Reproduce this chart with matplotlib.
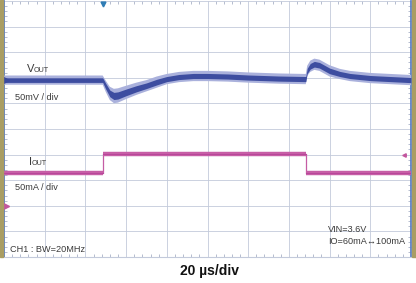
import matplotlib
matplotlib.use("Agg")
import matplotlib.pyplot as plt
from matplotlib.patches import Rectangle
from matplotlib.ticker import MultipleLocator

# ---- data ----
# time in microseconds (20 us/div, 10 divisions)
time_v = [0, 48.5, 50, 52, 54, 56, 60, 65, 70, 75, 80, 86, 93, 100, 110, 120, 135,
          148.3, 149, 150.5, 152.5, 155, 160, 165, 170, 180, 190, 200]
# VOUT deviation (mV, AC coupled, 50 mV/div)
vout_mv = [0, 0, -12, -26, -31, -30, -24, -17, -11, -4, 2, 6, 8, 8, 7, 5, 3,
           2, 18, 27, 31, 29, 18, 12, 8, 4, 2, 0]
# noise half-width of the VOUT trace (mV)
vout_noise = [9, 9, 11, 13, 14, 14, 13, 12, 11, 11, 10, 10, 10, 10, 10, 10, 10,
              10, 10, 11, 11, 11, 11, 10, 10, 10, 10, 10]

time_i = [0, 48.5, 48.5, 148.5, 148.5, 200]
iout_ma = [64, 64, 102, 102, 64, 64]   # 50 mA/div

vout_offset_div = 6.91
iout_zero_div = 2.0

W, H = 416, 283
fig = plt.figure(figsize=(W / 100, H / 100), dpi=100)
plt.rcParams['font.family'] = ['Liberation Sans', 'DejaVu Sans']

x0, x1 = 4, 411
y0, y1 = 257, 1
ax = fig.add_axes([x0 / W, 1 - y0 / H, (x1 - x0) / W, (y0 - y1) / H])
ax.set_xlim(0, 200)
ax.set_ylim(0, 10)

# grid
ax.xaxis.set_major_locator(MultipleLocator(20))
ax.yaxis.set_major_locator(MultipleLocator(1))
ax.xaxis.set_minor_locator(MultipleLocator(4))
ax.yaxis.set_minor_locator(MultipleLocator(0.2))
ax.grid(True, which='major', color='#c3cadb', lw=0.6)
ax.tick_params(which='both', direction='in', top=True, right=True,
               labelbottom=False, labelleft=False, colors='#a9b2c8')
ax.tick_params(which='major', length=0)
ax.tick_params(which='minor', length=2.5, width=0.6)
ax.spines['top'].set_visible(False)
ax.spines['bottom'].set_color('#c3cadb')
ax.spines['bottom'].set_linewidth(0.8)
for s in ('left', 'right'):
    ax.spines[s].set_color('#5b7fc8')
    ax.spines[s].set_linewidth(1.3)

# VOUT trace
vlo = [vout_offset_div + (v - n) / 50 for v, n in zip(vout_mv, vout_noise)]
vhi = [vout_offset_div + (v + n) / 50 for v, n in zip(vout_mv, vout_noise)]
ax.fill_between(time_v, vlo, vhi, facecolor='#aab1dc', lw=0, zorder=3)
vlo2 = [vout_offset_div + (v - n * 0.5) / 50 for v, n in zip(vout_mv, vout_noise)]
vhi2 = [vout_offset_div + (v + n * 0.5) / 50 for v, n in zip(vout_mv, vout_noise)]
ax.fill_between(time_v, vlo2, vhi2, color='#3d4da0', lw=0, zorder=4)

# IOUT trace: thick level segments, thin edges
ic = [iout_zero_div + i / 50 for i in iout_ma]
for k in range(len(time_i) - 1):
    xs, ys = time_i[k:k + 2], ic[k:k + 2]
    if ys[0] == ys[1]:
        ax.plot(xs, ys, color='#c75ea6', lw=3.2, zorder=4, solid_capstyle='butt')
        ax.plot(xs, ys, color='#b8479a', lw=0.7, zorder=5)
    else:
        ax.plot(xs, ys, color='#c55ca4', lw=0.9, zorder=4)

# channel markers
ax.plot([0.8], [vout_offset_div], marker='>', ms=4, color='#3a4a9e', clip_on=False, zorder=6)
ax.plot([1.2], [iout_zero_div], marker='>', ms=5, color='#c2569e', clip_on=False, zorder=6)
ax.plot([48.5], [9.88], marker='v', ms=3.5, color='#2f7db5', clip_on=False, zorder=6)
ax.plot([196.5], [4.0], marker='<', ms=2.5, color='#c2569e', clip_on=False, zorder=6)

# olive side bands
fig.patches.append(Rectangle((0, 1 - y0 / H), 3 / W, y0 / H, transform=fig.transFigure,
                             color='#a99d63', zorder=0))
fig.patches.append(Rectangle((412 / W, 1 - y0 / H), 4 / W, y0 / H, transform=fig.transFigure,
                             color='#a99d63', zorder=0))

tc = '#3a3a3a'
fs = 6.6
def px(x, y):
    return x / W, 1 - y / H

fig.text(*px(27, 72), 'V', fontsize=8, color=tc, va='baseline')
fig.text(*px(34, 72), 'OUT', fontsize=5.2, color=tc, va='baseline')
fig.text(*px(15, 100), '50mV / div', fontsize=fs, color=tc, va='baseline')
fig.text(*px(29, 165), 'I', fontsize=8, color=tc, va='baseline')
fig.text(*px(32, 165), 'OUT', fontsize=5.2, color=tc, va='baseline')
fig.text(*px(15, 190), '50mA / div', fontsize=fs, color=tc, va='baseline')
fig.text(*px(10, 252), 'CH1 : BW=20MHz', fontsize=fs, color=tc, va='baseline')
fig.text(*px(328, 232), 'VIN=3.6V', fontsize=fs, color=tc, va='baseline')
fig.text(*px(328, 244), 'IO=60mA\u2194100mA', fontsize=fs, color=tc, va='baseline')

fig.text(*px(209, 275), '20 \u00b5s/div', fontsize=10, fontweight='bold',
         color='#111111', ha='center', va='baseline')

fig.savefig('out.png', dpi=100)
